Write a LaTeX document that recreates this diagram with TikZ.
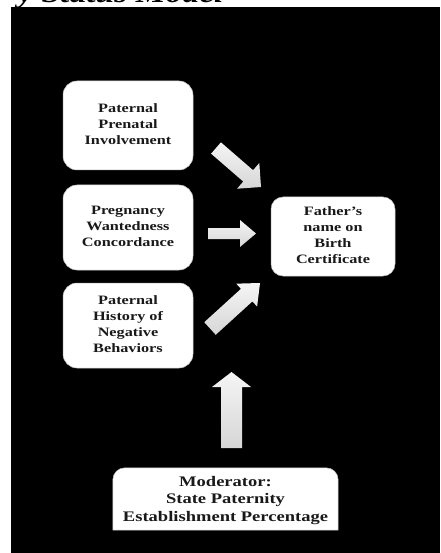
\documentclass[tikz,border=0pt]{standalone}
\usepackage{fontspec}
\usepackage{graphicx}
\setmainfont{Liberation Serif}
\usetikzlibrary{calc}
\newcommand{\stx}[1]{\scalebox{1.27}[1]{\begin{tabular}{@{}c@{}}#1\end{tabular}}}
\tikzset{
  box/.style={draw=gray!55, line width=0.5pt, fill=white, rounded corners=14pt,
    align=center, inner sep=0pt, text=black!90,
    font=\bfseries\fontsize{12.8}{16}\selectfont},
  arrowfill/.style={top color=gray!8, bottom color=gray!32, draw=none},
}
\newcommand{\blockarrow}[5]{%
  \coordinate (#1h) at ($(#2)!#5pt!(#1)$);
  \path[arrowfill]
    ($(#1)!#3pt!90:(#2)$) -- ($(#1h)!#3pt!90:(#2)$) -- ($(#1h)!#4pt!90:(#2)$) -- (#2)
    -- ($(#1h)!#4pt!-90:(#2)$) -- ($(#1h)!#3pt!-90:(#2)$) -- ($(#1)!#3pt!-90:(#2)$) -- cycle;
}
\begin{document}
\begin{tikzpicture}[x=1pt,y=-1pt]
\useasboundingbox (0,0) rectangle (440,553);
\fill[black] (11,7) rectangle (440,553);
\node[anchor=base west, inner sep=0pt, font=\bfseries\itshape\fontsize{28}{30}\selectfont] (title) at (18,3) {\scalebox{1.2}[1]{y Status Model}};

\node[box, minimum width=130pt, minimum height=89pt] (ppi) at (128,125.5) {\stx{Paternal\\Prenatal\\Involvement}};
\node[box, minimum width=130pt, minimum height=85pt] (pwc) at (128,227.5) {\stx{Pregnancy\\Wantedness\\Concordance}};
\node[box, minimum width=130pt, minimum height=85pt] (phn) at (128,325.5) {\stx{Paternal\\History of\\Negative\\Behaviors}};
\node[box, rounded corners=12pt, minimum width=124pt, minimum height=79pt] (fbc) at (333,236.5) {\stx{Father’s\\name on\\Birth\\Certificate}};
\node[inner sep=0pt, minimum width=225pt, minimum height=62pt] (mod) at (225.5,499) {};
\filldraw[fill=white, draw=gray!55, line width=0.5pt]
  ([yshift=-12pt]mod.north west) arc[start angle=180, end angle=90, radius=12pt]
  -- ([xshift=-12pt]mod.north east) arc[start angle=90, end angle=0, radius=12pt]
  -- (mod.south east) -- (mod.south west) -- cycle;
\node[align=center, inner sep=0pt, text=black!90, font=\bfseries\fontsize{14.6}{17.5}\selectfont] (modtext) at (225.5,500) {\stx{Moderator:\\State Paternity\\Establishment Percentage}};

\coordinate (a1) at (216,148); \coordinate (t1) at (261,187);
\coordinate (a2) at (208,233.5); \coordinate (t2) at (256,233.5);
\coordinate (a3) at (210,328.5); \coordinate (t3) at (260,283);
\coordinate (a4) at (231.5,448); \coordinate (t4) at (231.5,372);
\blockarrow{a1}{t1}{7.5}{17}{17}
\blockarrow{a2}{t2}{5.5}{13.5}{16}
\blockarrow{a3}{t3}{8.5}{15.5}{18}
\blockarrow{a4}{t4}{10.5}{19.5}{15}
\end{tikzpicture}
\end{document}
